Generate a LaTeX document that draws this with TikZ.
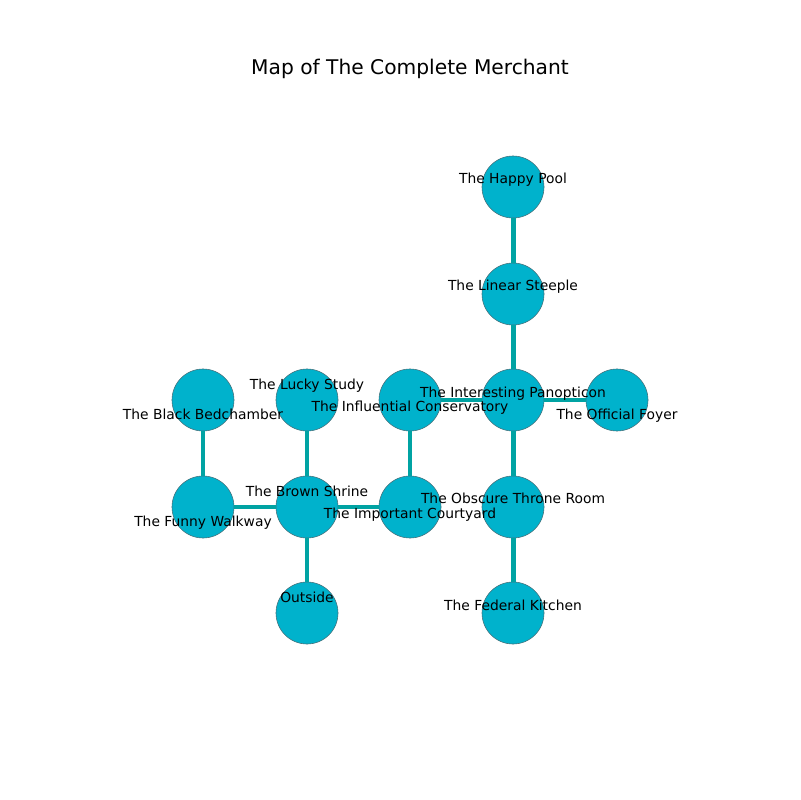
\documentclass[tikz,border=0pt]{standalone}
\usepackage{fontspec}
\setmainfont{DejaVu Sans}
\usetikzlibrary{positioning}
\definecolor{roomfill}{RGB}{0,178,204}
\definecolor{roomline}{RGB}{70,110,120}
\definecolor{pathteal}{RGB}{0,163,163}
\tikzstyle{room} = [circle, minimum size=0.62in, inner sep=0pt, fill=roomfill, draw=roomline, line width=0.4pt]
\tikzstyle{passage} = [line width=3.6pt, color=pathteal]
\tikzstyle{tag} = [font=\fontsize{10}{12}\selectfont, inner sep=0pt, text depth=0pt]

\begin{document}
\begin{tikzpicture}[x=0.01in, y=-0.01in]
\useasboundingbox (0,0) rectangle (800,800);
% Title
\node (title) [font=\fontsize{14.6}{16}\selectfont, inner sep=0pt, text depth=0pt] at (410,67) {Map of The Complete Merchant};

% Rooms
\node (happy) [room] at (513,187) {};
\node (steeple) [room] at (513,294) {};
\node (panopticon) [room] at (513,400) {};
\node (foyer) [room] at (617,400) {};
\node (conservatory) [room] at (410,400) {};
\node (study) [room] at (307,400) {};
\node (bedchamber) [room] at (203,400) {};
\node (walkway) [room] at (203,507) {};
\node (shrine) [room] at (307,507) {};
\node (courtyard) [room] at (410,507) {};
\node (throne) [room] at (513,507) {};
\node (kitchen) [room] at (513,613) {};
\node (outside) [room] at (307,613) {};

% Passages
\draw[passage] (happy) -- (steeple);
\draw[passage] (steeple) -- (panopticon);
\draw[passage] (panopticon) -- (foyer);
\draw[passage] (panopticon) -- (conservatory);
\draw[passage] (panopticon) -- (throne);
\draw[passage] (throne) -- (kitchen);
\draw[passage] (conservatory) -- (courtyard);
\draw[passage] (study) -- (shrine);
\draw[passage] (bedchamber) -- (walkway);
\draw[passage] (walkway) -- (shrine);
\draw[passage] (shrine) -- (courtyard);
\draw[passage] (shrine) -- (outside);

% Room names
\node (happyname) [tag] at (513,178) {The Happy Pool};
\node (steeplename) [tag] at (513,285) {The Linear Steeple};
\node (panopticonname) [tag] at (513,392) {The Interesting Panopticon};
\node (foyername) [tag] at (617,414) {The Official Foyer};
\node (conservatoryname) [tag] at (410,406) {The Influential Conservatory};
\node (studyname) [tag] at (307,384) {The Lucky Study};
\node (bedchambername) [tag] at (203,414) {The Black Bedchamber};
\node (walkwayname) [tag] at (203,521) {The Funny Walkway};
\node (shrinename) [tag] at (307,491) {The Brown Shrine};
\node (courtyardname) [tag] at (410,513) {The Important Courtyard};
\node (thronename) [tag] at (513,498) {The Obscure Throne Room};
\node (kitchenname) [tag] at (513,605) {The Federal Kitchen};
\node (outsidename) [tag] at (307,597) {Outside};
\end{tikzpicture}
\end{document}
